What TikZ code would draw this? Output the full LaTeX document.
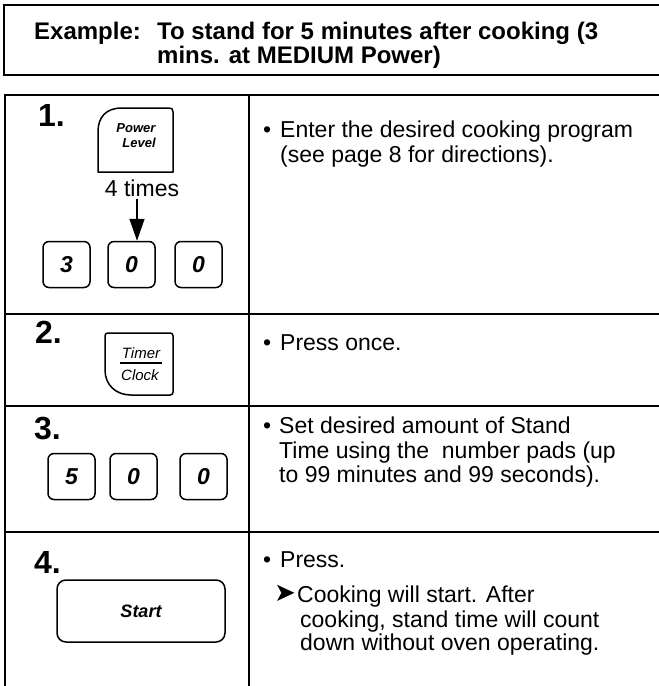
\documentclass[tikz,border=0pt]{standalone}
\usepackage{fontspec}
\setmainfont{Liberation Sans}
\newfontfamily\djv{DejaVu Sans}
\usetikzlibrary{arrows.meta}
\begin{document}
\begin{tikzpicture}[x=1pt,y=-1pt,
  rule/.style={line width=1.7pt},
  keyline/.style={line width=1.5pt, line join=round},
  numkey/.style={draw, line width=1.5pt, rounded corners=6pt, minimum width=47pt, minimum height=46pt, inner sep=0pt, font=\fontsize{23}{23}\selectfont\bfseries\itshape},
  body/.style={anchor=base west, inner sep=0pt, font=\fontsize{23}{25}\selectfont},
  head/.style={anchor=base west, inner sep=0pt, font=\fontsize{24}{26}\selectfont\bfseries},
  stepnum/.style={anchor=base west, inner sep=0pt, font=\fontsize{32}{32}\selectfont\bfseries},
  keylabel/.style={inner sep=0pt, font=\fontsize{13}{13}\selectfont\bfseries\itshape},
  keylabelit/.style={inner sep=0pt, font=\fontsize{15}{15}\selectfont\itshape},
]
\useasboundingbox (0,0) rectangle (659,686);

% header box
\draw[rule] (659,5) -- (4,5) -- (4,75) -- (659,75);
\node[head] (ex) at (34,39) {Example:};
\node[head] (h1) at (157,39) {To stand for 5 minutes after cooking (3};
\node[head] (h2) at (157,63) {mins. at MEDIUM Power)};

% table
\draw[rule] (659,95) -- (5,95) -- (5,686);
\draw[rule] (249,95) -- (249,686);
\draw[rule] (5,314) -- (659,314);
\draw[rule] (5,406) -- (659,406);
\draw[rule] (5,532) -- (659,532);

% step numbers
\node[stepnum] (s1) at (38,126) {1.};
\node[stepnum] (s2) at (35,343) {2.};
\node[stepnum] (s3) at (34,439) {3.};
\node[stepnum] (s4) at (34,573) {4.};

% Power Level key
\draw[keyline] (98,172) -- (98,132) .. controls (98,117) and (106,108) .. (122,108) -- (169,108) .. controls (172,108) and (173,109) .. (173,112) -- (173,172) -- cycle;
\node[keylabel] (pw) at (136,128) {Power};
\node[keylabel] (lv) at (139,143) {Level};

\node[body, anchor=base] (times) at (142,196) {4 times};
\coordinate (as) at (137,199);

\node[numkey] (k1) at (66.5,264.5) {3};
\node[numkey] (k2) at (131.5,264.5) {0};
\node[numkey] (k3) at (198.5,264.5) {0};
\draw[line width=1.5pt, -{Triangle[length=22pt,width=15pt]}] (as) -- (as |- k2.north);

% Timer/Clock key
\draw[keyline] (108,333) -- (170,333) .. controls (172,333) and (173,334) .. (173,336) -- (173,392) .. controls (173,394) and (172,395) .. (170,395) -- (131,395) .. controls (116,395) and (105,385) .. (105,370) -- (105,336) .. controls (105,334) and (106,333) .. (108,333) -- cycle;
\node[keylabelit] (tm) at (141,353) {Timer};
\draw[line width=1.1pt] (120,363) -- (162,363);
\node[keylabelit] (ck) at (140,375) {Clock};

% row 3 keys
\node[numkey] (k4) at (71.5,476.5) {5};
\node[numkey] (k5) at (133.5,476.5) {0};
\node[numkey] (k6) at (203.5,476.5) {0};

% Start key
\node[draw, keyline, rounded corners=9pt, minimum width=168pt, minimum height=62pt, font=\fontsize{18}{18}\selectfont\bfseries\itshape] (start) at (141,611) {Start};

% right column texts
\node[body] (b1) at (263,137) {•};
\node[body] (t1a) at (280,137) {Enter the desired cooking program};
\node[body] (t1b) at (280,162) {(see page 8 for directions).};

\node[body] (b2) at (263,350) {•};
\node[body] (t2a) at (280,350) {Press once.};

\node[body] (b3) at (263,433) {•};
\node[body] (t3a) at (279,433) {Set desired amount of Stand};
\node[body] (t3b) at (279,458) {Time using the \ number pads (up};
\node[body] (t3c) at (279,482) {to 99 minutes and 99 seconds).};

\node[body] (b4) at (263,567) {•};
\node[body] (t4a) at (280,567) {Press.};
\node[body] (ar4) at (274,601) {\djv\fontsize{26}{26}\selectfont ➤};
\node[body] (t4b) at (297,602) {Cooking will start. After};
\node[body] (t4c) at (300,627) {cooking, stand time will count};
\node[body] (t4d) at (300,650) {down without oven operating.};
\end{tikzpicture}
\end{document}
